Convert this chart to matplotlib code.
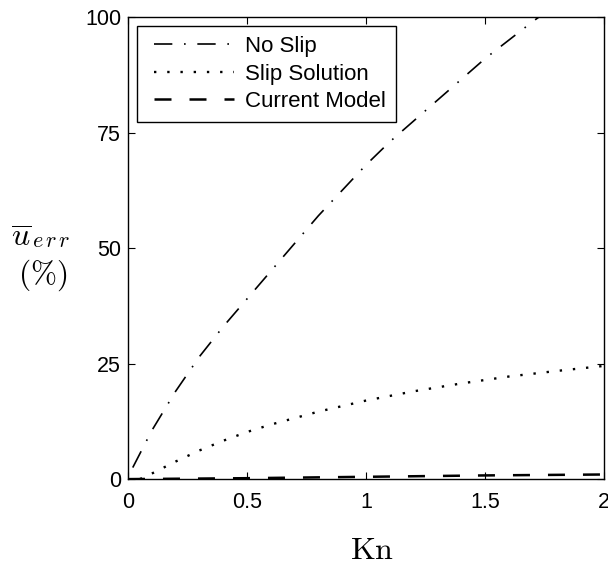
import numpy as np
import matplotlib
matplotlib.use("Agg")
from matplotlib import pyplot as plt
from matplotlib.lines import Line2D
from matplotlib.legend_handler import HandlerLine2D

## data
knNoSlip = [0.02, 0.1, 0.2, 0.3, 0.4, 0.5, 0.6, 0.7, 0.8, 0.9, 1.0, 1.1, 1.2, 1.3, 1.4, 1.5, 1.6, 1.7, 1.74]
errNoSlip = [2.5, 10.5, 19.0, 26.5, 33.0, 39.0, 45.0, 51.0, 57.0, 62.5, 68.0, 73.0, 77.5, 82.0, 86.5, 91.0, 95.0, 99.0, 100.5]

knSlip = [0.05, 0.1, 0.2, 0.3, 0.4, 0.5, 0.6, 0.7, 0.8, 0.9, 1.0, 1.2, 1.4, 1.6, 1.8, 2.0]
errSlip = [0.0, 1.2, 3.8, 6.2, 8.3, 10.2, 11.8, 13.2, 14.6, 15.8, 17.0, 19.0, 20.7, 22.2, 23.4, 24.5]

knModel = [0.0, 0.5, 1.0, 1.5, 2.0]
errModel = [0.0, 0.2, 0.5, 0.8, 1.0]

xTicks = [0, 0.5, 1, 1.5, 2]
xTickLabels = ['0', '0.5', '1', '1.5', '2']
yTicks = [0, 25, 50, 75, 100]

## figure setup
plt.rcParams['font.family'] = ['Liberation Sans', 'DejaVu Sans']
plt.rcParams['mathtext.fontset'] = 'cm'

fig = plt.figure(figsize=(6.08, 5.67), dpi=100)
ax = fig.add_axes([0.2105, 0.155, 0.783, 0.815])

ax.plot(knNoSlip, errNoSlip, color='black', linewidth=1.2,
        linestyle=(0, (11, 7, 1, 7)), label='No Slip')
ax.plot(knSlip, errSlip, color='black', linewidth=1.7,
        linestyle=(0, (1, 4.6)), label='Slip Solution')
ax.plot(knModel, errModel, color='black', linewidth=1.8,
        linestyle=(0, (6.8, 7.2)), label='Current Model')

ax.set_xlim(0, 2)
ax.set_ylim(0, 100)
ax.set_xticks(xTicks)
ax.set_xticklabels(xTickLabels)
ax.set_yticks(yTicks)
ax.tick_params(direction='in', top=True, right=True, labelsize=15.5, length=5, width=0.8)
ax.tick_params(axis='x', pad=9)
ax.tick_params(axis='y', pad=5)
for spine in ax.spines.values():
    spine.set_linewidth(1.0)

# axis labels (latex-like, placed by hand as in the original)
fig.text(0.612, 0.014, r'$\mathrm{Kn}$', fontsize=23, ha='center', va='baseline')
fig.text(0.018, 0.565, r'$\overline{u}$', fontsize=23, ha='left', va='baseline')
fig.text(0.052, 0.564, r'$e\,r\,r$', fontsize=16, ha='left', va='baseline')
fig.text(0.07, 0.515, r'$(\%)$', fontsize=22.5, ha='center', va='center')

leg = ax.legend(loc='upper left', fontsize=16, handlelength=3.9, handletextpad=0.5,
                labelspacing=0.3, borderpad=0.45, borderaxespad=0.4, fancybox=False,
                edgecolor='black', framealpha=1,
                handler_map={Line2D: HandlerLine2D(xpad=0.3)})
leg.get_frame().set_linewidth(1.0)

fig.savefig('out.png', dpi=100)
